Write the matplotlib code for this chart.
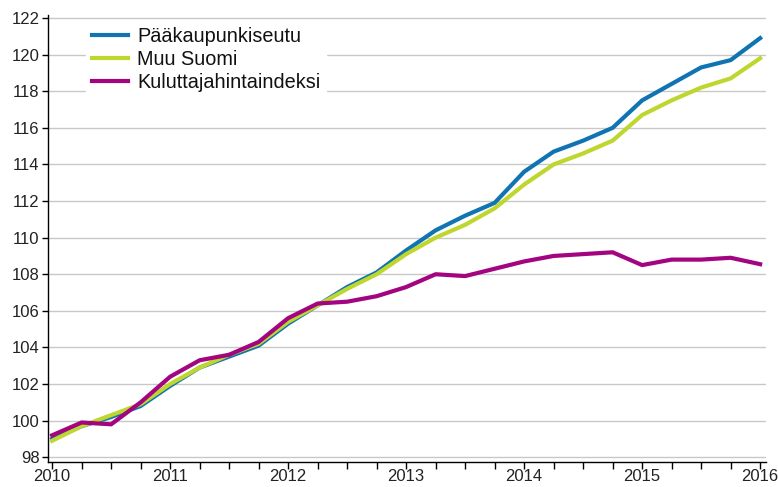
import matplotlib
matplotlib.use("Agg")
import matplotlib.pyplot as plt
import numpy as np

plt.rcParams['font.family'] = ['Liberation Sans', 'DejaVu Sans']

# quarterly index values 2010Q1 .. 2016Q1
years = ['2010', '2011', '2012', '2013', '2014', '2015', '2016']
paakaupunkiseutu = [99.0, 99.7, 100.2, 100.8, 101.9, 102.9, 103.5, 104.1, 105.3,
                    106.3, 107.3, 108.1, 109.3, 110.4, 111.2, 111.9, 113.6, 114.7,
                    115.3, 116.0, 117.5, 118.4, 119.3, 119.7, 120.9]
muu_suomi = [98.9, 99.7, 100.3, 100.9, 102.0, 102.9, 103.6, 104.2, 105.4,
             106.3, 107.2, 108.0, 109.1, 110.0, 110.7, 111.6, 112.9, 114.0,
             114.6, 115.3, 116.7, 117.5, 118.2, 118.7, 119.8]
kuluttajahintaindeksi = [99.2, 99.9, 99.8, 101.0, 102.4, 103.3, 103.6, 104.3, 105.6,
                         106.4, 106.5, 106.8, 107.3, 108.0, 107.9, 108.3, 108.7, 109.0,
                         109.1, 109.2, 108.5, 108.8, 108.8, 108.9, 108.55]

x = np.arange(len(paakaupunkiseutu))

fig = plt.figure(figsize=(7.78, 4.87), dpi=100)
ax = fig.add_axes([0.0617, 0.0513, 0.9229, 0.9177])

ax.plot(x, paakaupunkiseutu, color='#0f74b1', lw=3.0, label='Pääkaupunkiseutu', zorder=3)
ax.plot(x, muu_suomi, color='#bfd62f', lw=3.0, label='Muu Suomi', zorder=4)
ax.plot(x, kuluttajahintaindeksi, color='#a3047f', lw=3.0, label='Kuluttajahintaindeksi', zorder=5)

ax.set_xlim(-0.14, 24.2)
ax.set_ylim(97.74, 122.16)
ax.set_yticks(np.arange(98, 123, 2))
ax.set_xticks(x)
ax.set_xticklabels([years[i // 4] if i % 4 == 0 else '' for i in x])

ax.grid(axis='y', color='#c8c8c8', lw=1.0)
ax.set_axisbelow(True)
for s in ['top', 'right']:
    ax.spines[s].set_visible(False)
for s in ['left', 'bottom']:
    ax.spines[s].set_color('#000000')
    ax.spines[s].set_linewidth(1.0)
ax.tick_params(axis='x', length=5, width=1, pad=0, labelsize=12, colors='#000000')
ax.tick_params(axis='y', length=4.5, width=1, pad=1.5, labelsize=12, colors='#000000')
for lab in ax.get_xticklabels() + ax.get_yticklabels():
    lab.set_color('#222222')

leg = ax.legend(loc='upper left', bbox_to_anchor=(0.048, 0.996), frameon=True,
                fontsize=14.3, handlelength=1.8, handletextpad=0.45,
                labelspacing=0.2, borderaxespad=0.2, borderpad=0.3)
leg.get_frame().set_facecolor('white')
leg.get_frame().set_edgecolor('white')
leg.get_frame().set_alpha(1.0)
for t in leg.get_texts():
    t.set_color('#111111')

fig.savefig('out.png', dpi=100)
